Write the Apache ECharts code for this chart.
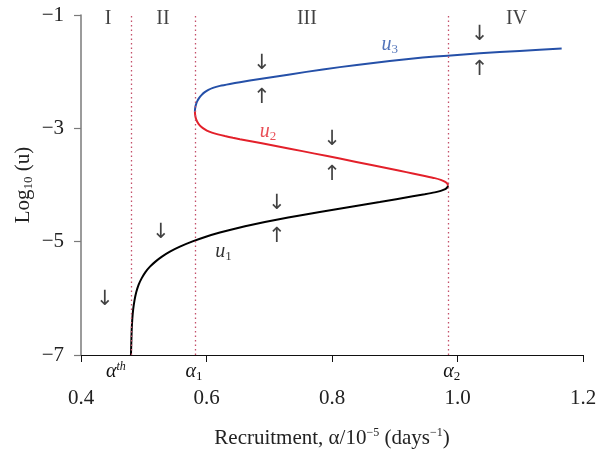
<!DOCTYPE html>
<html>
<head>
<meta charset="utf-8">
<style>
  html, body { margin: 0; padding: 0; background: #fff; }
  #chart { width: 610px; height: 449px; }
</style>
<script src="https://cdn.jsdelivr.net/npm/echarts@6/dist/echarts.min.js"></script>
</head>
<body>
<div id="chart"></div>
<script>
// thresholds
const alphaTh = 0.4796
const alpha1 = 0.5815
const alpha2 = 0.9846

// lower stable branch u1 (black)
const u1Points = [
  [0.4796, -7.0], [0.4801, -6.815], [0.4807, -6.586], [0.4817, -6.374], [0.4831, -6.198],
  [0.4852, -6.040], [0.4881, -5.890], [0.4919, -5.758], [0.4968, -5.643], [0.5027, -5.537],
  [0.5099, -5.441], [0.5186, -5.352], [0.5290, -5.264], [0.5417, -5.176], [0.5576, -5.088],
  [0.5768, -5.000], [0.5990, -4.913], [0.6213, -4.839], [0.6484, -4.762], [0.6744, -4.697],
  [0.7116, -4.613], [0.7487, -4.537], [0.7806, -4.476], [0.8236, -4.398], [0.8761, -4.301],
  [0.9287, -4.199], [0.9478, -4.163], [0.9637, -4.130], [0.9733, -4.103], [0.9804, -4.073],
  [0.9838, -4.041], [0.9849, -4.008]
]
// unstable middle branch u2 (red)
const u2Points = [
  [0.9849, -4.008], [0.9838, -3.974], [0.9804, -3.943], [0.9733, -3.909], [0.9637, -3.879],
  [0.9478, -3.841], [0.9287, -3.797], [0.9080, -3.749], [0.8650, -3.652], [0.8124, -3.534],
  [0.7726, -3.446], [0.7328, -3.359], [0.6882, -3.264], [0.6532, -3.192], [0.6420, -3.167],
  [0.6293, -3.137], [0.6182, -3.107], [0.6086, -3.076], [0.6006, -3.039], [0.5943, -2.996],
  [0.5892, -2.947], [0.5857, -2.894], [0.5833, -2.833], [0.5820, -2.771], [0.5815, -2.704]
]
// upper stable branch u3 (blue)
const u3Points = [
  [0.5815, -2.704], [0.5820, -2.639], [0.5833, -2.577], [0.5855, -2.515], [0.5884, -2.462],
  [0.5924, -2.410], [0.5967, -2.366], [0.6030, -2.322], [0.6102, -2.286], [0.6213, -2.251],
  [0.6373, -2.216], [0.6532, -2.186], [0.6850, -2.128], [0.7328, -2.048], [0.7854, -1.960],
  [0.8395, -1.881], [0.8920, -1.811], [0.9446, -1.752], [0.9844, -1.717], [1.0354, -1.675],
  [1.0990, -1.634], [1.1660, -1.590]
]

const xTicks = [0.4, 0.6, 0.8, 1.0, 1.2]
const yTicks = [-7, -5, -3, -1]

// region names along the top
const regionLabels = [[0.443, -1.06, 'I'], [0.5306, -1.06, 'II'], [0.76, -1.06, 'III'], [1.094, -1.06, 'IV']]
// stability arrows
const arrows = [
  [0.438, -6.03, '↓'], [0.527, -4.84, '↓'],
  [0.688, -1.85, '↓'], [0.688, -2.45, '↑'],
  [0.8, -3.2, '↓'], [0.8, -3.82, '↑'],
  [0.712, -4.33, '↓'], [0.712, -4.91, '↑'],
  [1.035, -1.35, '↓'], [1.035, -1.97, '↑']
]
// branch names
const branchLabels = [
  [0.627, -5.17, '1', '#000000'],
  [0.698, -3.06, '2', '#e3202a'],
  [0.892, -1.53, '3', '#2550a8']
]

const serif = 'Liberation Serif'

let chart = echarts.init(document.getElementById('chart'))

let textSeries = function (name, items, style) {
  return {
    name: name,
    type: 'scatter',
    silent: true,
    symbolSize: 0,
    data: items.map(it => ({ value: [it[0], it[1]], text: it[2] })),
    label: Object.assign({
      show: true,
      position: 'inside',
      formatter: p => p.data.text
    }, style),
    z: 5
  }
}

let markRich = {
  a: { fontFamily: serif, fontStyle: 'italic', fontSize: 20, color: '#111' },
  sup: { fontFamily: serif, fontStyle: 'italic', fontSize: 12, color: '#111', verticalAlign: 'top', padding: [0, 0, 9, 0] },
  sub: { fontFamily: serif, fontSize: 13, color: '#111', verticalAlign: 'bottom', padding: [9, 0, 0, 0] }
}

let regionLine = function (a, text, offset) {
  return [
    {
      coord: [a, yTicks[0]],
      label: {
        show: true,
        position: 'start',
        distance: 6,
        offset: offset,
        formatter: text,
        rich: markRich
      }
    },
    { coord: [a, yTicks[yTicks.length - 1]] }
  ]
}

let option = {
  animation: false,
  backgroundColor: '#ffffff',
  grid: { left: 81, right: 27, top: 15, bottom: 94, containLabel: false, outerBoundsMode: 'none' },
  xAxis: {
    type: 'value',
    min: xTicks[0],
    max: xTicks[xTicks.length - 1],
    interval: 0.2,
    splitLine: { show: false },
    axisLine: { lineStyle: { color: '#111', width: 1.2 } },
    axisTick: { length: 7, lineStyle: { color: '#111' } },
    axisLabel: {
      margin: 33,
      fontFamily: serif,
      fontSize: 21,
      color: '#222',
      formatter: v => v.toFixed(1)
    },
    name: '{t|Recruitment, α/10}{s|−5}{t| (days}{s|−1}{t|)}',
    nameLocation: 'middle',
    nameGap: 72,
    nameMoveOverlap: false,
    nameTextStyle: {
      rich: {
        t: { fontFamily: serif, fontSize: 21, color: '#222' },
        s: { fontFamily: serif, fontSize: 12, color: '#222', verticalAlign: 'top', padding: [0, 0, 10, 0] }
      }
    }
  },
  yAxis: {
    type: 'value',
    min: yTicks[0],
    max: yTicks[yTicks.length - 1],
    interval: 2,
    splitLine: { show: false },
    axisLine: { show: true, lineStyle: { color: '#7a7a7a', width: 1.5 } },
    axisTick: { show: true, length: 7, lineStyle: { color: '#7a7a7a', width: 1.2 } },
    axisLabel: {
      margin: 17,
      fontFamily: serif,
      fontSize: 21,
      color: '#222',
      formatter: v => '−' + Math.abs(v)
    },
    name: '{t|Log}{s|10}{t| (u)}',
    nameLocation: 'middle',
    nameRotate: 90,
    nameGap: 46,
    nameMoveOverlap: false,
    nameTextStyle: {
      rich: {
        t: { fontFamily: serif, fontSize: 21, color: '#222' },
        s: { fontFamily: serif, fontSize: 13, color: '#222', verticalAlign: 'bottom', padding: [10, 0, 0, 0] }
      }
    }
  },
  series: [
    {
      name: 'regions',
      type: 'line',
      data: [],
      silent: true,
      clip: false,
      markLine: {
        silent: true,
        symbol: ['none', 'none'],
        lineStyle: { type: [1.5, 3], color: '#c4506a', width: 1.3 },
        data: [
          regionLine(alphaTh, '{a|α}{sup|th}', [-15, 0]),
          regionLine(alpha1, '{a|α}{sub|1}', [-1, 0]),
          regionLine(alpha2, '{a|α}{sub|2}', [4, 0]),
          [
            { coord: [alphaTh, yTicks[0]], lineStyle: { type: 'solid', color: '#000', width: 2 }, label: { show: false } },
            { coord: [alphaTh, -7.3] }
          ]
        ]
      }
    },
    {
      name: 'u1',
      type: 'line',
      data: u1Points,
      showSymbol: false,
      smooth: 0.2,
      lineStyle: { color: '#000', width: 2 },
      z: 3
    },
    {
      name: 'u2',
      type: 'line',
      data: u2Points,
      showSymbol: false,
      smooth: 0.2,
      lineStyle: { color: '#e3202a', width: 2 },
      z: 3
    },
    {
      name: 'u3',
      type: 'line',
      data: u3Points,
      showSymbol: false,
      smooth: 0.2,
      lineStyle: { color: '#2550a8', width: 2 },
      z: 3
    },
    textSeries('regionLabels', regionLabels, { fontFamily: serif, fontSize: 20, color: '#111' }),
    textSeries('arrows', arrows, { fontFamily: 'DejaVu Sans', fontSize: 21, color: '#111' }),
    {
      name: 'branchLabels',
      type: 'scatter',
      silent: true,
      symbolSize: 0,
      data: branchLabels.map(it => ({
        value: [it[0], it[1]],
        label: {
          formatter: '{u|u}{s|' + it[2] + '}',
          rich: {
            u: { fontFamily: serif, fontStyle: 'italic', fontSize: 20, color: it[3] },
            s: { fontFamily: serif, fontSize: 13, color: it[3], verticalAlign: 'bottom', padding: [10, 0, 0, 0] }
          }
        }
      })),
      label: { show: true, position: 'inside' },
      z: 5
    }
  ]
}

chart.setOption(option)
</script>
</body>
</html>
